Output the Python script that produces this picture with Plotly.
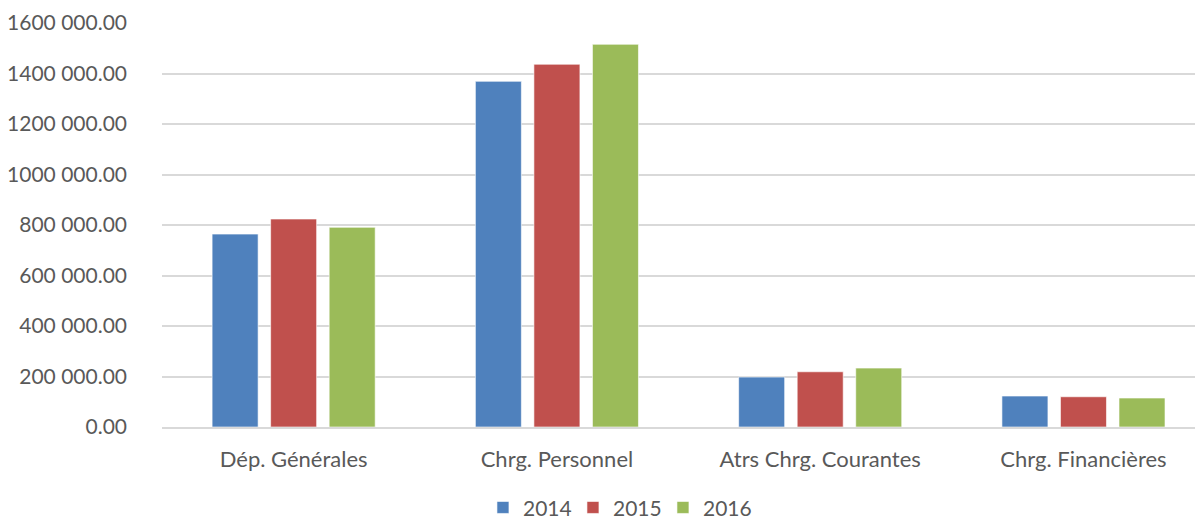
import plotly.graph_objects as go

categories = ["Dép. Générales", "Chrg. Personnel", "Atrs Chrg. Courantes", "Chrg. Financières"]
years = ["2014", "2015", "2016"]
values_2014 = [764000, 1369000, 197700, 122600]
values_2015 = [823700, 1436600, 218700, 119800]
values_2016 = [790800, 1515700, 233300, 114700]
tick_vals = [0, 200000, 400000, 600000, 800000, 1000000, 1200000, 1400000, 1600000]
tick_text = ["0.00", "200 000.00", "400 000.00", "600 000.00", "800 000.00",
             "1000 000.00", "1200 000.00", "1400 000.00", "1600 000.00"]
colors = ["#4F81BD", "#C0504D", "#9BBB59"]

fig = go.Figure()
for name, vals, col in zip(years, [values_2014, values_2015, values_2016], colors):
    fig.add_trace(go.Bar(
        x=categories, y=vals, name=name,
        marker=dict(color=col, line=dict(color="rgba(255,255,255,0.6)", width=1)),
    ))

font_family = "Lato, Carlito, 'Open Sans', sans-serif"
fig.update_layout(
    width=1195, height=512,
    margin=dict(l=154, r=0, t=15, b=93, autoexpand=False),
    paper_bgcolor="white", plot_bgcolor="white",
    barmode="group", bargap=0.333, bargroupgap=0.214,
    font=dict(family=font_family, size=20, color="#595959"),
    showlegend=True,
    legend=dict(orientation="h", x=0.438, xanchor="center", y=-0.2, yanchor="middle",
                font=dict(size=21, color="#595959"), itemwidth=30, traceorder="normal",
                tracegroupgap=0, entrywidth=45, entrywidthmode="pixels"),
    xaxis=dict(range=[-0.5, 3.454], showgrid=False, showline=True, linecolor="#D9D9D9",
               linewidth=1.5, ticks="", ticklabelstandoff=12, tickfont=dict(size=22),
               automargin=False),
    yaxis=dict(range=[0, 1600000], tickvals=tick_vals, ticktext=tick_text,
               showgrid=True, gridcolor="#D9D9D9", gridwidth=1.5, zeroline=False,
               showline=False, ticks="", ticklabelstandoff=34, tickfont=dict(size=21),
               automargin=False),
)
fig.write_html("out.html")
